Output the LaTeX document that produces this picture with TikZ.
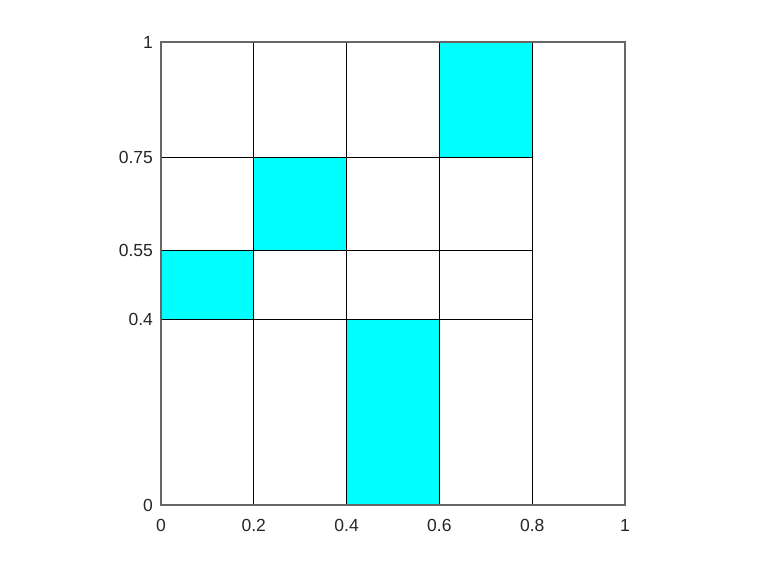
\documentclass[tikz,border=0pt]{standalone}
\usepackage{fontspec}
\setmainfont{Liberation Sans}
\definecolor{cellcyan}{RGB}{0,255,255}
\begin{document}
\begin{tikzpicture}[x=1pt,y=-1pt,
  cell/.style={fill=cellcyan,draw=none},
  gridline/.style={draw=black,line width=0.9pt},
  axisbox/.style={draw=black!60,line width=1.1pt},
  ticklab/.style={font=\fontsize{17.5}{20}\selectfont,text=black!85,inner sep=0pt}]
\useasboundingbox[fill=white] (0,0) rectangle (759,569);
\begin{scope}[shift={(161,505)},x=464pt,y=463pt]
  % filled cells
  \fill[cell] (0,0.4) rectangle (0.2,0.55);
  \fill[cell] (0.2,0.55) rectangle (0.4,0.75);
  \fill[cell] (0.4,0) rectangle (0.6,0.4);
  \fill[cell] (0.6,0.75) rectangle (0.8,1);
  % vertical grid lines
  \foreach \v in {0.2,0.4,0.6,0.8} \draw[gridline] (\v,0) -- (\v,1);
  % horizontal grid lines
  \foreach \h in {0.4,0.55,0.75} \draw[gridline] (0,\h) -- (0.8,\h);
  % axes box
  \draw[axisbox] (0,0) rectangle (1,1);
  % tick labels
  \foreach \v/\n in {0/x0,0.2/x1,0.4/x2,0.6/x3,0.8/x4,1/x5}
    \node[ticklab,anchor=north] (\n) at (\v,-0.031) {\v};
  \foreach \h/\n in {0/y0,0.4/y1,0.55/y2,0.75/y3,1/y4}
    \node[ticklab,anchor=east] (\n) at (-0.017,\h) {\h};
\end{scope}
\end{tikzpicture}
\end{document}
